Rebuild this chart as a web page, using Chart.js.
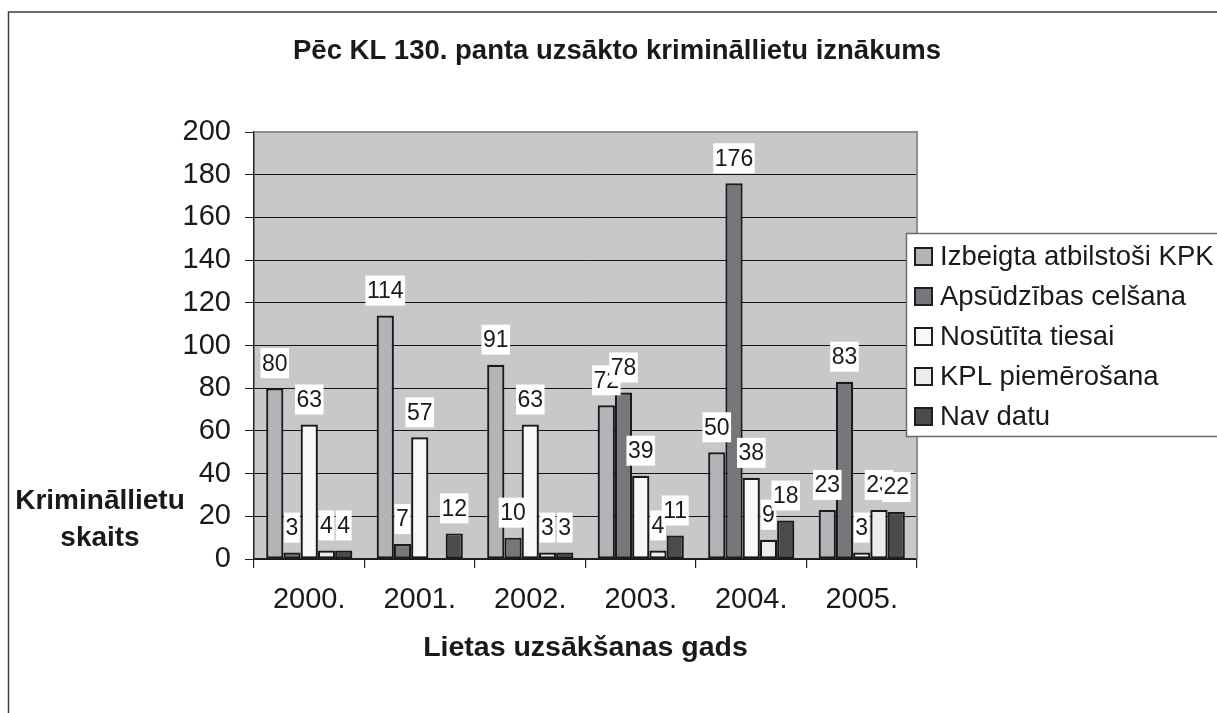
<!DOCTYPE html>
<html>
<head>
<meta charset="utf-8">
<script src="https://cdn.jsdelivr.net/npm/chart.js@4.4.0/dist/chart.umd.min.js"></script>
<style>
  html, body { margin: 0; padding: 0; background: #ffffff; }
  #wrap { width: 1217px; height: 713px; position: relative; }
</style>
</head>
<body>
<div id="wrap"><canvas id="c" width="1217" height="713"></canvas></div>
<script>
// ---------- data ----------
const chartTitle = 'Pēc KL 130. panta uzsākto krimināllietu iznākums';
const xAxisTitle = 'Lietas uzsākšanas gads';
const yAxisTitle = ['Krimināllietu', 'skaits'];
const categories = ['2000.', '2001.', '2002.', '2003.', '2004.', '2005.'];
const seriesNames = ['Izbeigta atbilstoši KPK', 'Apsūdzības celšana', 'Nosūtīta tiesai', 'KPL piemērošana', 'Nav datu'];
const izbeigta   = [80, 114, 91, 72, 50, 23];
const apsudzibas = [3, 7, 10, 78, 176, 83];
const nosutita   = [63, 57, 63, 39, 38, 3];
const kpl        = [4, null, 3, 4, 9, 23];
const navDatu    = [4, 12, 3, 11, 18, 22];
const yMin = 0, yMax = 200, yStep = 20;

// ---------- styles ----------
const FONT = '"Liberation Sans", Arial, Helvetica, sans-serif';
const seriesColors = ['#b3b4b8', '#76777b', '#f8f8f8', '#ececec', '#4a4b4d'];
const seriesValues = [izbeigta, apsudzibas, nosutita, kpl, navDatu];
const TEXT = '#1a1a1a';

Chart.defaults.font.family = FONT;
Chart.defaults.color = TEXT;

const datasets = seriesNames.map((name, i) => ({
  label: name,
  data: seriesValues[i],
  backgroundColor: seriesColors[i],
  borderColor: '#1a1a1a',
  borderWidth: 2.2,
  borderSkipped: false,
  barPercentage: 1.0,
  categoryPercentage: 0.78
}));

const framePlugin = {
  id: 'frame',
  beforeDraw(chart) {
    const { ctx, chartArea: a } = chart;
    ctx.save();
    ctx.fillStyle = '#ffffff';
    ctx.fillRect(0, 0, chart.width, chart.height);
    ctx.strokeStyle = '#3c3c3c';
    ctx.lineWidth = 1.5;
    ctx.strokeRect(8.5, 12, 1400, 900);
    ctx.fillStyle = '#c8c8ca';
    ctx.fillRect(a.left, a.top, a.right - a.left, a.bottom - a.top);
    ctx.restore();
  },
  beforeDatasetsDraw(chart) {
    const { ctx, chartArea: a } = chart;
    ctx.save();
    ctx.strokeStyle = '#8e8e8e';
    ctx.lineWidth = 2;
    ctx.beginPath();
    ctx.moveTo(a.left, a.top);
    ctx.lineTo(a.right, a.top);
    ctx.lineTo(a.right, a.bottom);
    ctx.stroke();
    ctx.restore();
  }
};

const labelPlugin = {
  id: 'valueLabels',
  afterDatasetsDraw(chart) {
    const ctx = chart.ctx;
    ctx.save();
    ctx.font = '23px ' + FONT;
    ctx.textAlign = 'center';
    ctx.textBaseline = 'middle';
    chart.data.datasets.forEach((ds, i) => {
      const meta = chart.getDatasetMeta(i);
      meta.data.forEach((bar, j) => {
        const v = ds.data[j];
        if (v === null || v === undefined) return;
        const txt = String(v);
        const w = ctx.measureText(txt).width;
        const cy = bar.y - 25;
        ctx.fillStyle = '#ffffff';
        ctx.fillRect(bar.x - w / 2 - 1.5, cy - 15, w + 3, 30);
        ctx.fillStyle = TEXT;
        ctx.fillText(txt, bar.x, cy + 1);
      });
    });
    ctx.restore();
  }
};

const textPlugin = {
  id: 'texts',
  afterDraw(chart) {
    const ctx = chart.ctx;
    ctx.save();
    // title
    ctx.fillStyle = TEXT;
    ctx.textAlign = 'center';
    ctx.textBaseline = 'middle';
    ctx.font = 'bold 27.5px ' + FONT;
    ctx.fillText(chartTitle, 617, 51);
    // y axis title (horizontal, two lines)
    ctx.font = 'bold 28px ' + FONT;
    ctx.fillText(yAxisTitle[0], 100, 501);
    ctx.fillText(yAxisTitle[1], 100, 538);
    // legend
    const lx = 906, ly = 233, lw = 400, lh = 203;
    ctx.fillStyle = '#ffffff';
    ctx.fillRect(lx, ly, lw, lh);
    ctx.strokeStyle = '#6a6a6a';
    ctx.lineWidth = 1.5;
    ctx.strokeRect(lx + 0.5, ly + 0.5, lw, lh);
    ctx.font = '27.5px ' + FONT;
    ctx.textAlign = 'left';
    chart.data.datasets.forEach((ds, i) => {
      const cy = 256 + i * 40;
      ctx.fillStyle = ds.backgroundColor;
      ctx.fillRect(915, cy - 8, 17, 17);
      ctx.strokeStyle = '#1e1e1e';
      ctx.lineWidth = 2;
      ctx.strokeRect(915, cy - 8, 17, 17);
      ctx.fillStyle = TEXT;
      ctx.fillText(ds.label, 940, cy + 1);
    });
    ctx.restore();
  }
};

new Chart(document.getElementById('c').getContext('2d'), {
  type: 'bar',
  data: { labels: categories, datasets: datasets },
  options: {
    responsive: false,
    animation: false,
    devicePixelRatio: 1,
    layout: { padding: { top: 132, right: 300, bottom: 48, left: 0 } },
    plugins: {
      legend: { display: false },
      title: { display: false },
      tooltip: { enabled: false }
    },
    scales: {
      x: {
        grid: { display: true, drawOnChartArea: false, drawTicks: true, tickLength: 9, color: '#222', offset: true, lineWidth: 1.2 },
        border: { display: true, color: '#222', width: 1.5 },
        ticks: { font: { size: 29 }, padding: 15, color: TEXT },
        title: { display: true, text: xAxisTitle, font: { size: 28.5, weight: 'bold' }, color: TEXT, padding: { top: 0, bottom: 0 } },
        afterFit(s) { s.height = 106; }
      },
      y: {
        min: yMin,
        max: yMax,
        ticks: { stepSize: yStep, font: { size: 29 }, padding: 14, color: TEXT },
        grid: {
          drawTicks: true,
          tickLength: 9,
          tickColor: '#222',
          lineWidth: 1,
          color: (c) => (c.tick && c.tick.value === yMax) ? 'rgba(0,0,0,0)' : '#151515'
        },
        border: { display: true, color: '#222', width: 1.5 },
        afterFit(s) { s.width = 254; }
      }
    }
  },
  plugins: [framePlugin, labelPlugin, textPlugin]
});
</script>
</body>
</html>
